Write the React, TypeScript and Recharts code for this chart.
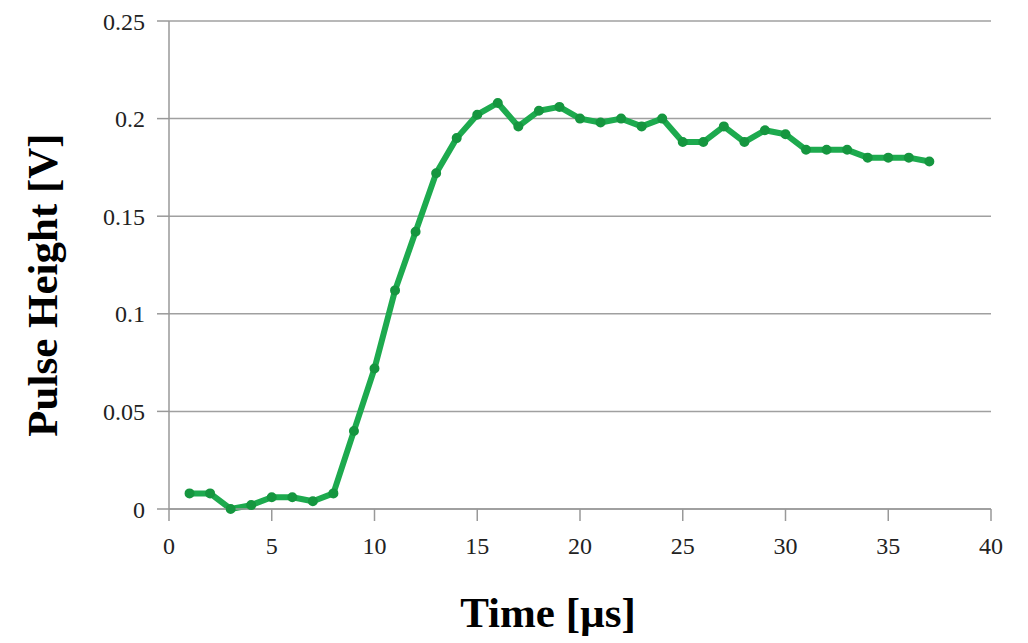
import { LineChart, Line, XAxis, YAxis, CartesianGrid, Label } from 'recharts';

// time in microseconds
const times = [
  1, 2, 3, 4, 5, 6, 7, 8, 9, 10, 11, 12, 13, 14, 15, 16, 17, 18, 19,
  20, 21, 22, 23, 24, 25, 26, 27, 28, 29, 30, 31, 32, 33, 34, 35, 36, 37,
];

// pulse height in volts
const pulseHeight = [
  0.008, 0.008, 0.0, 0.002, 0.006, 0.006, 0.004, 0.008, 0.04, 0.072,
  0.112, 0.142, 0.172, 0.19, 0.202, 0.208, 0.196, 0.204, 0.206, 0.2,
  0.198, 0.2, 0.196, 0.2, 0.188, 0.188, 0.196, 0.188, 0.194, 0.192,
  0.184, 0.184, 0.184, 0.18, 0.18, 0.18, 0.178,
];

const xTicks = [0, 5, 10, 15, 20, 25, 30, 35, 40];
const yTicks = [0, 0.05, 0.1, 0.15, 0.2, 0.25];

const data = times.map((t, i) => ({ t, v: pulseHeight[i] }));

const tickStyle = { fontFamily: 'Liberation Serif', fontSize: 24, fill: '#222' };
const titleFont = { fontFamily: 'Liberation Serif', fontSize: 43, fontWeight: 'bold' as const };

// titles sit a little off-centre in the original, so place them by hand
const XTitle = () => (
  <text x={548} y={627} textAnchor="middle" fill="#000" style={titleFont}>
    Time [µs]
  </text>
);

const YTitle = () => (
  <text x={57} y={285} textAnchor="middle" fill="#000" transform="rotate(-90, 57, 285)" style={titleFont}>
    Pulse Height [V]
  </text>
);

export default function App() {
  return (
    <div style={{ position: 'absolute', left: 0, top: 0, background: '#fff' }}>
      <LineChart width={1028} height={643} data={data} margin={{ top: 21, right: 37, bottom: 0, left: 47 }}>
        <CartesianGrid vertical={false} stroke="#a0a0a0" strokeWidth={1.5} />
        <XAxis
          dataKey="t"
          type="number"
          domain={[0, 40]}
          ticks={xTicks}
          interval={0}
          stroke="#999"
          strokeWidth={1.5}
          tickSize={12}
          tick={tickStyle}
          tickMargin={16}
          height={134}
        >
          <Label content={<XTitle />} />
        </XAxis>
        <YAxis
          type="number"
          domain={[0, 0.25]}
          ticks={yTicks}
          interval={0}
          stroke="#999"
          strokeWidth={1.5}
          tickSize={12}
          tickMargin={12}
          tick={tickStyle}
          width={122}
        >
          <Label content={<YTitle />} />
        </YAxis>
        <Line
          dataKey="v"
          stroke="#1daa4e"
          strokeWidth={6}
          strokeLinejoin="round"
          dot={{ r: 2, fill: '#15963f', stroke: '#15963f' }}
          isAnimationActive={false}
        />
      </LineChart>
    </div>
  );
}
